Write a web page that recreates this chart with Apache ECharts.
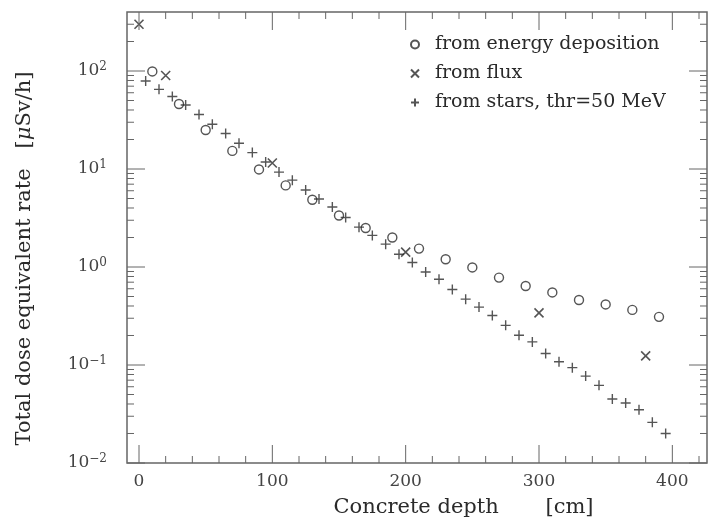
<!DOCTYPE html>
<html>
<head>
<meta charset="utf-8">
<script src="https://cdn.jsdelivr.net/npm/echarts@6/dist/echarts.min.js"></script>
<style>
  html, body { margin: 0; padding: 0; background: #fff; }
  #chart { width: 710px; height: 524px; }
</style>
</head>
<body>
<div id="chart"></div>
<script>
// 能量沉积 (circles)
const depositDepth = [10, 30, 50, 70, 90, 110, 130, 150, 170, 190, 210, 230, 250, 270, 290, 310, 330, 350, 370, 390];
const depositRate = [99, 46, 25, 15.3, 9.9, 6.8, 4.85, 3.35, 2.5, 2.0, 1.54, 1.2, 0.99, 0.78, 0.64, 0.55, 0.46, 0.415, 0.365, 0.31];

// 通量 (crosses)
const fluxDepth = [0, 20, 100, 200, 300, 380];
const fluxRate = [300, 90, 11.5, 1.42, 0.34, 0.124];

// stars, thr=50 MeV (pluses)
const starsDepth = [5, 15, 25, 35, 45, 55, 65, 75, 85, 95, 105, 115, 125, 135, 145, 155, 165, 175, 185, 195,
    205, 215, 225, 235, 245, 255, 265, 275, 285, 295, 305, 315, 325, 335, 345, 355, 365, 375, 385, 395];
const starsRate = [79, 65, 55, 45, 36, 28.6, 23, 18.3, 14.7, 11.8, 9.3, 7.7, 6.1, 4.95, 4.1, 3.2, 2.55, 2.1, 1.71, 1.35,
    1.11, 0.89, 0.75, 0.59, 0.47, 0.39, 0.32, 0.254, 0.201, 0.172, 0.131, 0.108, 0.094, 0.077, 0.062, 0.045, 0.041, 0.035, 0.026, 0.020];

// 刻度位置
const xMajor = [0, 100, 200, 300, 400];
const xMinor = [20, 40, 60, 80, 120, 140, 160, 180, 220, 240, 260, 280, 320, 340, 360, 380, 420];
const yMajor = [0.01, 0.1, 1, 10, 100];
const yMinor = [0.02, 0.03, 0.04, 0.05, 0.06, 0.07, 0.08, 0.09,
    0.2, 0.3, 0.4, 0.5, 0.6, 0.7, 0.8, 0.9,
    2, 3, 4, 5, 6, 7, 8, 9,
    20, 30, 40, 50, 60, 70, 80, 90,
    200, 300];

const legendNames = ['from energy deposition', 'from flux', 'from stars, thr=50 MeV'];

const FONT = 'DejaVu Serif';
const INK = '#2a2a2a';
const AXIS = '#666';

const zip = (xs, ys) => xs.map((x, i) => [x, ys[i]]);

const chart = echarts.init(document.getElementById('chart'));

const powLabel = (v) => {
    const n = Math.round(Math.log10(v));
    if (Math.abs(v - Math.pow(10, n)) / v > 1e-6) return '';
    return '{b|10}{s|' + (n < 0 ? '\u2212' + (-n) : n) + '}';
};

// 四边向内的刻度线 (上下 / 左右成对)
const xTickSeries = (values, len) => ({
    type: 'custom',
    silent: true,
    clip: false,
    z: 5,
    data: values.map(v => [v, 1]),
    renderItem: (params, api) => {
        const x = api.coord([api.value(0), 1])[0];
        const cs = params.coordSys;
        const bottom = cs.y + cs.height;
        return {
            type: 'group',
            children: [
                { type: 'line', shape: { x1: x, y1: bottom, x2: x, y2: bottom - len }, style: { stroke: AXIS, lineWidth: 1 } },
                { type: 'line', shape: { x1: x, y1: cs.y, x2: x, y2: cs.y + len }, style: { stroke: AXIS, lineWidth: 1 } }
            ]
        };
    }
});
const yTickSeries = (values, len) => ({
    type: 'custom',
    silent: true,
    clip: false,
    z: 5,
    data: values.map(v => [0, v]),
    renderItem: (params, api) => {
        const y = api.coord([0, api.value(1)])[1];
        const cs = params.coordSys;
        const right = cs.x + cs.width;
        return {
            type: 'group',
            children: [
                { type: 'line', shape: { x1: cs.x, y1: y, x2: cs.x + len, y2: y }, style: { stroke: AXIS, lineWidth: 1 } },
                { type: 'line', shape: { x1: right - len, y1: y, x2: right, y2: y }, style: { stroke: AXIS, lineWidth: 1 } }
            ]
        };
    }
});

const option = {
    animation: false,
    grid: {
        left: 127, top: 12, width: 586, height: 451,
        show: true, borderColor: AXIS, borderWidth: 1.5, backgroundColor: 'transparent'
    },
    legend: {
        orient: 'vertical',
        left: 405,
        top: 30,
        itemWidth: 30,
        itemHeight: 8,
        itemGap: 10,
        selectedMode: false,
        textStyle: { fontFamily: FONT, fontSize: 19, color: INK },
        data: legendNames
    },
    xAxis: {
        type: 'value',
        min: -9,
        max: 426,
        splitLine: { show: false },
        axisLine: { show: false, onZero: false },
        axisTick: { show: false },
        name: 'Concrete depth       [cm]',
        nameLocation: 'middle',
        nameGap: 34,
        nameTextStyle: { fontFamily: FONT, fontSize: 21, color: INK, padding: [0, 0, 0, 93] },
        axisLabel: {
            margin: 10,
            fontFamily: FONT,
            fontSize: 17,
            color: '#444',
            formatter: (v) => (v % 100 === 0 ? String(v) : '')
        }
    },
    yAxis: {
        type: 'log',
        logBase: 10,
        min: 0.01,
        max: 400,
        splitLine: { show: false },
        axisLine: { show: false, onZero: false },
        axisTick: { show: false },
        name: '{a|Total dose equivalent rate   [}{m|\u03bc}{a|Sv/h]}',
        nameLocation: 'middle',
        nameGap: 92,
        nameTextStyle: {
            padding: [0, 42, 0, 0],
            rich: {
                a: { fontFamily: FONT, fontSize: 21, color: INK },
                m: { fontFamily: FONT, fontSize: 21, fontStyle: 'italic', color: INK }
            }
        },
        axisLabel: {
            margin: 20,
            formatter: powLabel,
            rich: {
                b: { fontFamily: FONT, fontSize: 17, color: '#444' },
                s: { fontFamily: FONT, fontSize: 12, color: '#444', padding: [0, 0, 9, 0] }
            }
        }
    },
    series: [
        {
            name: legendNames[0],
            type: 'scatter',
            symbol: 'circle',
            symbolSize: 9,
            itemStyle: { color: 'transparent', borderColor: INK, borderWidth: 1.4 },
            emphasis: { disabled: true },
            data: zip(depositDepth, depositRate)
        },
        {
            name: legendNames[1],
            type: 'scatter',
            symbol: 'path://M0,0L10,10M10,0L0,10',
            symbolSize: 9,
            itemStyle: { color: 'transparent', borderColor: INK, borderWidth: 1.6 },
            emphasis: { disabled: true },
            data: zip(fluxDepth, fluxRate)
        },
        {
            name: legendNames[2],
            type: 'scatter',
            symbol: 'path://M5,0L5,10M0,5L10,5',
            symbolSize: 10,
            itemStyle: { color: 'transparent', borderColor: INK, borderWidth: 1.4 },
            emphasis: { disabled: true },
            data: zip(starsDepth, starsRate)
        },
        xTickSeries(xMajor, 18),
        xTickSeries(xMinor, 7),
        yTickSeries(yMajor, 18),
        yTickSeries(yMinor, 7)
    ]
};

chart.setOption(option);
</script>
</body>
</html>
